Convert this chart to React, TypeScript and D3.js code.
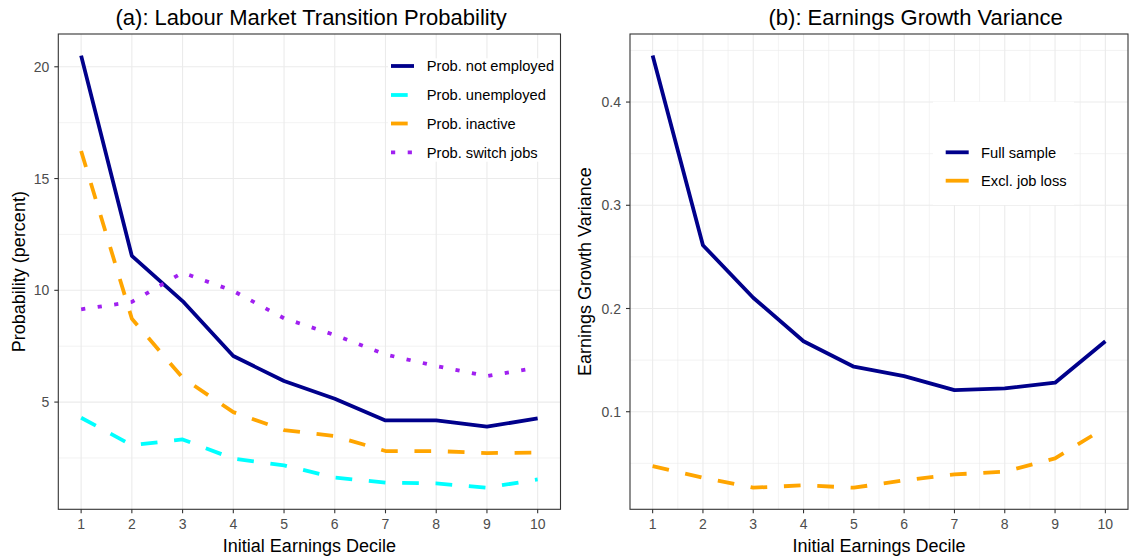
import React from "react";
import * as d3 from "d3";

// ---------- data ----------
const deciles = [1, 2, 3, 4, 5, 6, 7, 8, 9, 10];

const probNotEmployed = [20.5, 11.54, 9.52, 7.06, 5.94, 5.15, 4.18, 4.18, 3.9, 4.27];
const probUnemployed = [4.3, 3.07, 3.33, 2.47, 2.17, 1.62, 1.4, 1.36, 1.17, 1.54];
const probInactive = [16.23, 8.73, 6.09, 4.55, 3.75, 3.48, 2.81, 2.81, 2.72, 2.74];
const probSwitchJobs = [9.15, 9.48, 10.79, 9.97, 8.75, 8.0, 7.13, 6.61, 6.16, 6.54];

const varFullSample = [0.445, 0.2613, 0.2104, 0.1683, 0.1436, 0.1345, 0.1209, 0.1226, 0.1281, 0.1683];
const varExclJobLoss = [0.0473, 0.0361, 0.0264, 0.0287, 0.0264, 0.0335, 0.0393, 0.0419, 0.0548, 0.0846];

const leftYTicks = [5, 10, 15, 20];
const leftYMinor = [2.5, 7.5, 12.5, 17.5];
const rightYTicks = [0.1, 0.2, 0.3, 0.4];
const rightYMinor = [0.05, 0.15, 0.25, 0.35, 0.45];
const xMinorTicks = [1.5, 2.5, 3.5, 4.5, 5.5, 6.5, 7.5, 8.5, 9.5];

const leftSeries = [
  { name: "Prob. not employed", values: probNotEmployed, color: "#00008B", dash: "" },
  { name: "Prob. unemployed", values: probUnemployed, color: "#00FFFF", dash: "16.7 16.7" },
  { name: "Prob. inactive", values: probInactive, color: "#FFA500", dash: "16.7 16.7" },
  { name: "Prob. switch jobs", values: probSwitchJobs, color: "#A020F0", dash: "4.2 12.5" },
];
const rightSeries = [
  { name: "Full sample", values: varFullSample, color: "#00008B", dash: "", keyDash: "" },
  { name: "Excl. job loss", values: varExclJobLoss, color: "#FFA500", dash: "16.7 16.7", keyDash: "" },
];

const FONT = "'Liberation Sans', Arial, Helvetica, sans-serif";
const GRID = "#EBEBEB";
const BORDER = "#333333";
const TICKTXT = "#4D4D4D";
const LW = 3.8;

function expand(vals: number[]) {
  const [mn, mx] = d3.extent(vals) as [number, number];
  const pad = (mx - mn) * 0.05;
  return [mn - pad, mx + pad];
}

type Series = { name: string; values: number[]; color: string; dash: string; keyDash?: string };

function Panel(props: {
  left: number;
  right: number;
  top: number;
  bottom: number;
  title: string;
  titleX: number;
  yTitle: string;
  yTitleX: number;
  series: Series[];
  yTicks: number[];
  yMinor: number[];
  xMinor: boolean;
  fmt: (v: number) => string;
  legend: { x0: number; y0: number; x1: number; y1: number; keyX: number; textX: number; rows: number[] };
}) {
  const { left, right, top, bottom, series, yTicks, yMinor, fmt, legend } = props;
  const allVals = series.flatMap((s) => s.values);
  const x = d3.scaleLinear().domain([0.55, 10.45]).range([left, right]);
  const y = d3.scaleLinear().domain(expand(allVals)).range([bottom, top]);
  const line = d3
    .line<number>()
    .x((_, i) => x(deciles[i]))
    .y((v) => y(v));
  const cx = (left + right) / 2;
  const cy = (top + bottom) / 2;
  return (
    <g>
      <rect x={left} y={top} width={right - left} height={bottom - top} fill="#fff" />
      {props.xMinor &&
        xMinorTicks.map((t) => (
          <line key={"xm" + t} x1={x(t)} x2={x(t)} y1={top} y2={bottom} stroke={GRID} strokeWidth={0.6} />
        ))}
      {yMinor.map((t) => (
        <line key={"ym" + t} x1={left} x2={right} y1={y(t)} y2={y(t)} stroke={GRID} strokeWidth={0.6} />
      ))}
      {deciles.map((t) => (
        <line key={"xg" + t} x1={x(t)} x2={x(t)} y1={top} y2={bottom} stroke={GRID} strokeWidth={1.1} />
      ))}
      {yTicks.map((t) => (
        <line key={"yg" + t} x1={left} x2={right} y1={y(t)} y2={y(t)} stroke={GRID} strokeWidth={1.1} />
      ))}
      {series.map((s) => (
        <path
          key={s.name}
          d={line(s.values) || ""}
          fill="none"
          stroke={s.color}
          strokeWidth={LW}
          strokeDasharray={s.dash || undefined}
          strokeLinejoin="round"
          strokeLinecap="butt"
        />
      ))}
      {/* legend */}
      <rect x={legend.x0} y={legend.y0} width={legend.x1 - legend.x0} height={legend.y1 - legend.y0} fill="#fff" />
      {series.map((s, i) => (
        <g key={"lg" + s.name}>
          <line
            x1={legend.keyX}
            x2={legend.keyX + 23}
            y1={legend.rows[i]}
            y2={legend.rows[i]}
            stroke={s.color}
            strokeWidth={LW}
            strokeDasharray={(s.keyDash !== undefined ? s.keyDash : s.dash) || undefined}
          />
          <text x={legend.textX} y={legend.rows[i] + 5.2} fontSize={14.7} fontFamily={FONT} fill="#000">
            {s.name}
          </text>
        </g>
      ))}
      <rect x={left} y={top} width={right - left} height={bottom - top} fill="none" stroke={BORDER} strokeWidth={1.1} />
      {/* x axis */}
      {deciles.map((t) => (
        <g key={"xt" + t}>
          <line x1={x(t)} x2={x(t)} y1={bottom} y2={bottom + 4} stroke={BORDER} strokeWidth={1.1} />
          <text x={x(t)} y={528.5} textAnchor="middle" fontSize={14} fontFamily={FONT} fill={TICKTXT}>
            {t}
          </text>
        </g>
      ))}
      {/* y axis */}
      {yTicks.map((t) => (
        <g key={"yt" + t}>
          <line x1={left - 4} x2={left} y1={y(t)} y2={y(t)} stroke={BORDER} strokeWidth={1.1} />
          <text x={left - 9} y={y(t) + 5} textAnchor="end" fontSize={14} fontFamily={FONT} fill={TICKTXT}>
            {fmt(t)}
          </text>
        </g>
      ))}
      <text x={cx} y={551.5} textAnchor="middle" fontSize={18} fontFamily={FONT} fill="#000">
        Initial Earnings Decile
      </text>
      <text
        transform={`translate(${props.yTitleX},${cy}) rotate(-90)`}
        textAnchor="middle"
        fontSize={18}
        fontFamily={FONT}
        fill="#000"
      >
        {props.yTitle}
      </text>
      <text x={props.titleX} y={25} textAnchor="start" fontSize={22} fontFamily={FONT} fill="#000">
        {props.title}
      </text>
    </g>
  );
}

export default function App() {
  return (
    <svg
      width={1129}
      height={557}
      viewBox="0 0 1129 557"
      style={{ position: "absolute", left: 0, top: 0, background: "#fff" }}
    >
      <rect x={0} y={0} width={1129} height={557} fill="#fff" />
      <Panel
        left={58.3}
        right={560.5}
        top={34}
        bottom={509.3}
        title="(a): Labour Market Transition Probability"
        titleX={115.5}
        yTitle="Probability (percent)"
        yTitleX={25}
        series={leftSeries}
        yTicks={leftYTicks}
        yMinor={leftYMinor}
        xMinor={false}
        fmt={(v) => String(v)}
        legend={{ x0: 388, y0: 58.3, x1: 560, y1: 161.7, keyX: 391, textX: 426.7, rows: [66, 95, 123.5, 152.3] }}
      />
      <Panel
        left={630}
        right={1128}
        top={34}
        bottom={509.3}
        title="(b): Earnings Growth Variance"
        titleX={768.5}
        yTitle="Earnings Growth Variance"
        yTitleX={591.3}
        series={rightSeries}
        yTicks={rightYTicks}
        yMinor={rightYMinor}
        xMinor={true}
        fmt={d3.format(".1f")}
        legend={{ x0: 933, y0: 101.7, x1: 1074, y1: 205, keyX: 945.7, textX: 981, rows: [152.3, 180.7] }}
      />
    </svg>
  );
}
